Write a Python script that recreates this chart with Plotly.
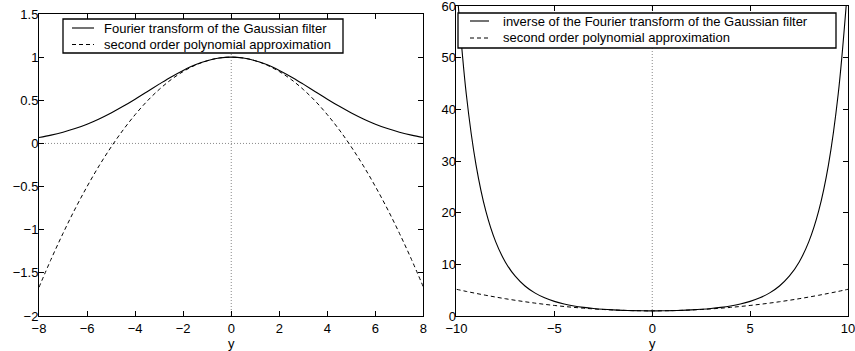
import plotly.graph_objects as go
from plotly.subplots import make_subplots

# ---------------- data ----------------
y_left = [-8, -7.5, -7, -6.5, -6, -5.5, -5, -4.5, -4, -3.5, -3, -2.5, -2, -1.5, -1, -0.5,
          0, 0.5, 1, 1.5, 2, 2.5, 3, 3.5, 4, 4.5, 5, 5.5, 6, 6.5, 7, 7.5, 8]
gauss_ft = [0.069, 0.096, 0.130, 0.172, 0.223, 0.284, 0.353, 0.430, 0.513, 0.600, 0.687,
            0.771, 0.846, 0.911, 0.959, 0.990, 1.000, 0.990, 0.959, 0.911, 0.846, 0.771,
            0.687, 0.600, 0.513, 0.430, 0.353, 0.284, 0.223, 0.172, 0.130, 0.096, 0.069]
poly_left = [-1.667, -1.344, -1.042, -0.760, -0.500, -0.260, -0.042, 0.156, 0.333, 0.490,
             0.625, 0.740, 0.833, 0.906, 0.958, 0.990, 1.000, 0.990, 0.958, 0.906, 0.833,
             0.740, 0.625, 0.490, 0.333, 0.156, -0.042, -0.260, -0.500, -0.760, -1.042,
             -1.344, -1.667]

y_right = [-10, -9.5, -9, -8.5, -8, -7.5, -7, -6.5, -6, -5.5, -5, -4.5, -4, -3.5, -3, -2.5,
           -2, -1.5, -1, -0.5, 0, 0.5, 1, 1.5, 2, 2.5, 3, 3.5, 4, 4.5, 5, 5.5, 6, 6.5, 7,
           7.5, 8, 8.5, 9, 9.5, 10]
inv_gauss_ft = [64.5, 42.96, 29.22, 20.29, 14.39, 10.42, 7.704, 5.815, 4.482, 3.527, 2.834,
                2.325, 1.948, 1.666, 1.455, 1.297, 1.181, 1.098, 1.043, 1.010, 1.000, 1.010,
                1.043, 1.098, 1.181, 1.297, 1.455, 1.666, 1.948, 2.325, 2.834, 3.527, 4.482,
                5.815, 7.704, 10.42, 14.39, 20.29, 29.22, 42.96, 64.5]
poly_right = [5.167, 4.760, 4.375, 4.010, 3.667, 3.344, 3.042, 2.760, 2.500, 2.260, 2.042,
              1.844, 1.667, 1.510, 1.375, 1.260, 1.167, 1.094, 1.042, 1.010, 1.000, 1.010,
              1.042, 1.094, 1.167, 1.260, 1.375, 1.510, 1.667, 1.844, 2.042, 2.260, 2.500,
              2.760, 3.042, 3.344, 3.667, 4.010, 4.375, 4.760, 5.167]

left_names = ["Fourier transform of the Gaussian filter",
              "second order polynomial approximation"]
right_names = ["inverse of the Fourier transform of the Gaussian filter",
               "second order polynomial approximation"]

left_xticks = [-8, -6, -4, -2, 0, 2, 4, 6, 8]
left_yticks = [-2, -1.5, -1, -0.5, 0, 0.5, 1, 1.5]
right_xticks = [-10, -5, 0, 5, 10]
right_yticks = [0, 10, 20, 30, 40, 50, 60]

FONT = "Liberation Sans, Arial, Helvetica, sans-serif"
FS = 13
W, H = 855, 351
SOLID = dict(color="black", width=1.1)
DASHED = dict(color="black", width=1, dash="4px,3px")

fig = make_subplots(rows=1, cols=2)

fig.add_trace(go.Scatter(x=y_left, y=gauss_ft, mode="lines", line_shape="spline",
                         line=SOLID, name=left_names[0], showlegend=False), row=1, col=1)
fig.add_trace(go.Scatter(x=y_left, y=poly_left, mode="lines", line_shape="spline",
                         line=DASHED, name=left_names[1], showlegend=False), row=1, col=1)
fig.add_trace(go.Scatter(x=y_right, y=inv_gauss_ft, mode="lines", line_shape="spline",
                         line=SOLID, name=right_names[0], showlegend=False), row=1, col=2)
fig.add_trace(go.Scatter(x=y_right, y=poly_right, mode="lines", line_shape="spline",
                         line=DASHED, name=right_names[1], showlegend=False), row=1, col=2)

# dotted reference lines through zero
fig.add_shape(type="line", xref="x", yref="y", x0=-8, x1=8, y0=0, y1=0,
              line=dict(color="#888", width=1, dash="1px,2px"), layer="below")
fig.add_shape(type="line", xref="x", yref="y", x0=0, x1=0, y0=-2, y1=1.5,
              line=dict(color="#888", width=1, dash="1px,2px"), layer="below")
fig.add_shape(type="line", xref="x2", yref="y2", x0=0, x1=0, y0=0, y1=60,
              line=dict(color="#888", width=1, dash="1px,2px"), layer="below")

# axis titles "y"
for xr in ("x domain", "x2 domain"):
    fig.add_annotation(text="y", xref=xr, x=0.5, yref="paper", y=0.022,
                       xanchor="center", yanchor="middle", showarrow=False,
                       font=dict(family=FONT, size=FS, color="black"))


# boxed legends (pixel layout converted to paper coordinates)
def px(x):
    return x / W


def py(y):
    return 1 - y / H


def boxed_legend(box, sample_x, text_x, rows, names):
    fig.add_shape(type="rect", xref="paper", yref="paper",
                  x0=px(box[0]), x1=px(box[1]), y0=py(box[2]), y1=py(box[3]),
                  line=dict(color="black", width=1.3), fillcolor="white", layer="above")
    for name, row_y, style in zip(names, rows, (SOLID, DASHED)):
        fig.add_shape(type="line", xref="paper", yref="paper",
                      x0=px(sample_x[0]), x1=px(sample_x[1]), y0=py(row_y), y1=py(row_y),
                      line=style, layer="above")
        fig.add_annotation(text=name, xref="paper", yref="paper", x=px(text_x), y=py(row_y),
                           xanchor="left", yanchor="middle", showarrow=False,
                           font=dict(family=FONT, size=FS, color="black"))


boxed_legend((63, 343, 19, 53), (72, 94), 102, (28, 44.5), left_names)
boxed_legend((458, 836, 13, 48), (470, 489), 501, (21, 38), right_names)

axis_common = dict(showgrid=False, zeroline=False, showline=True, linecolor="black",
                   linewidth=1, mirror="ticks", ticks="inside", ticklen=5,
                   tickcolor="black", automargin=False, ticklabeloverflow="allow",
                   tickfont=dict(family=FONT, size=FS, color="black"))

fig.update_xaxes(axis_common)
fig.update_yaxes(axis_common)
fig.update_yaxes(ticklabelstandoff=-3)

fig.update_layout(
    template="none",
    width=W, height=H,
    margin=dict(l=0, r=0, t=0, b=0, autoexpand=False),
    paper_bgcolor="white", plot_bgcolor="white",
    font=dict(family=FONT, size=FS, color="black"),
    showlegend=False,
    xaxis=dict(domain=[0.0456, 0.4953], range=[-8, 8], tickvals=left_xticks),
    yaxis=dict(domain=[0.0997, 0.9601], range=[-2, 1.5], tickvals=left_yticks),
    xaxis2=dict(domain=[0.5339, 0.9918], range=[-10, 10], tickvals=right_xticks),
    yaxis2=dict(domain=[0.0997, 0.9829], range=[0, 60], tickvals=right_yticks),
)

fig.write_html("out.html", config={"displayModeBar": False},
               post_script="document.body.style.margin='0px';")
